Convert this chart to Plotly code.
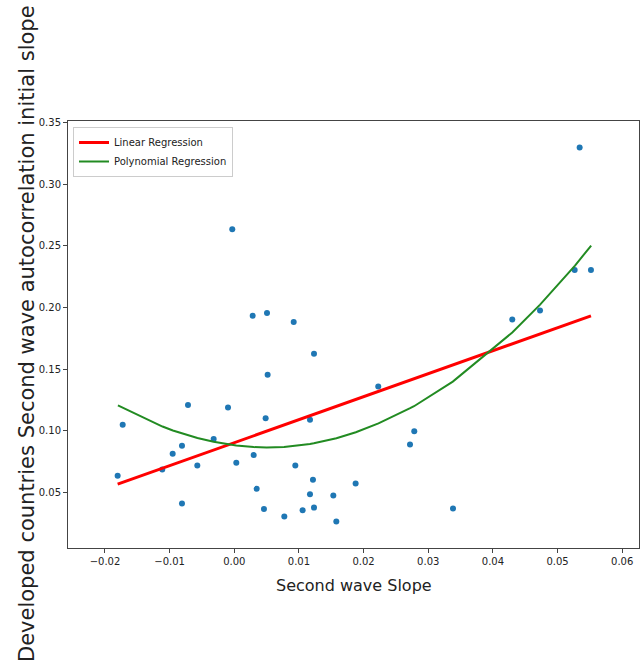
import plotly.graph_objects as go

# Scatter data: Second wave slope (x) vs autocorrelation initial slope (y)
x_slope = [-0.01804, -0.01726, -0.01114, -0.00953, -0.00809, -0.00809, -0.00716,
           -0.00572, -0.00319, -0.00097, -0.00031, 0.00031, 0.00285, 0.00300,
           0.00346, 0.00459, 0.00485, 0.00506, 0.00516, 0.00774, 0.00919,
           0.00944, 0.01057, 0.01171, 0.01171, 0.01217, 0.01233, 0.01233,
           0.01532, 0.01578, 0.01877, 0.02227, 0.02718, 0.02784, 0.03383,
           0.04300, 0.04729, 0.05265, 0.05342, 0.05517]
y_autocorr = [0.0633, 0.1048, 0.0685, 0.0812, 0.0877, 0.0408, 0.1208,
              0.0717, 0.0932, 0.1187, 0.2636, 0.0739, 0.1933, 0.0801,
              0.0527, 0.0364, 0.1100, 0.1955, 0.1453, 0.0302, 0.1882,
              0.0717, 0.0353, 0.1089, 0.0484, 0.0600, 0.0375, 0.1624,
              0.0473, 0.0261, 0.0571, 0.1358, 0.0888, 0.0994, 0.0367,
              0.1903, 0.1976, 0.2305, 0.3299, 0.2305]

# Linear regression line
lin_x = [-0.01804, 0.05517]
lin_y = [0.0565, 0.1932]

# Polynomial regression curve (at sorted x positions)
poly_x = [-0.0180, -0.0173, -0.0111, -0.0095, -0.0081, -0.0072, -0.0057, -0.0032,
          -0.0010, 0.0003, 0.0030, 0.0050, 0.0077, 0.0094, 0.0106, 0.0117,
          0.0123, 0.0153, 0.0158, 0.0188, 0.0223, 0.0272, 0.0278, 0.0338,
          0.0430, 0.0473, 0.0527, 0.0552]
poly_y = [0.1205, 0.1188, 0.1033, 0.1001, 0.0977, 0.0962, 0.0940, 0.0909,
          0.0888, 0.0879, 0.0866, 0.0863, 0.0867, 0.0875, 0.0883, 0.0891,
          0.0897, 0.0931, 0.0938, 0.0987, 0.1059, 0.1182, 0.1198, 0.1398,
          0.1797, 0.2023, 0.2340, 0.2503]

x_ticks = [-0.02, -0.01, 0.0, 0.01, 0.02, 0.03, 0.04, 0.05, 0.06]
y_ticks = [0.05, 0.10, 0.15, 0.20, 0.25, 0.30, 0.35]

x_title = "Second wave Slope"
y_title = "Developed countries Second wave autocorrelation initial slope"

FONT = "DejaVu Sans"

fig = go.Figure()
fig.add_trace(go.Scatter(x=x_slope, y=y_autocorr, mode="markers",
                         marker=dict(color="#1f77b4", size=6),
                         showlegend=False))
fig.add_trace(go.Scatter(x=lin_x, y=lin_y, mode="lines",
                         line=dict(color="#ff0000", width=3),
                         name="Linear Regression"))
fig.add_trace(go.Scatter(x=poly_x, y=poly_y, mode="lines",
                         line=dict(color="#228b22", width=2),
                         name="Polynomial Regression"))

W, H = 642, 666
ml, mr, mt, mb = 68, 3, 121, 118
pw = W - ml - mr
ph = H - mt - mb

axis_common = dict(showgrid=False, zeroline=False, showline=True,
                   linecolor="#444", linewidth=1, mirror=True,
                   ticks="outside", ticklen=4, tickcolor="#444",
                   tickfont=dict(family=FONT, size=10, color="#222"))

fig.update_layout(
    width=W, height=H,
    margin=dict(l=ml, r=mr, t=mt, b=mb, autoexpand=False),
    paper_bgcolor="white", plot_bgcolor="white",
    font=dict(family=FONT, color="#222"),
    xaxis=dict(range=[-0.02572, 0.0626], tickvals=x_ticks, tickformat=".2f",
               **axis_common),
    yaxis=dict(range=[0.00468, 0.3514], tickvals=y_ticks, tickformat=".2f",
               **axis_common),
    legend=dict(x=(73 - ml) / pw, y=1 - (127 - mt) / ph,
                xanchor="left", yanchor="top",
                bgcolor="rgba(255,255,255,0.85)", bordercolor="#cccccc",
                borderwidth=1, font=dict(family=FONT, size=10, color="#222"),
                tracegroupgap=0),
    annotations=[
        dict(text=x_title, xref="paper", yref="paper",
             x=0.5, y=(548 - 585) / ph, xanchor="center", yanchor="middle",
             showarrow=False, font=dict(family=FONT, size=16, color="#222")),
        dict(text=y_title, xref="paper", yref="paper",
             x=(27 - ml) / pw, y=1 - (334 - mt) / ph, xanchor="center",
             yanchor="middle", textangle=-90, showarrow=False,
             font=dict(family=FONT, size=21, color="#222")),
    ],
)

fig.write_html(
    "out.html",
    config={"displayModeBar": False},
    post_script="document.body.style.margin='0';document.body.style.padding='0';"
                "document.body.style.overflow='hidden';",
)
